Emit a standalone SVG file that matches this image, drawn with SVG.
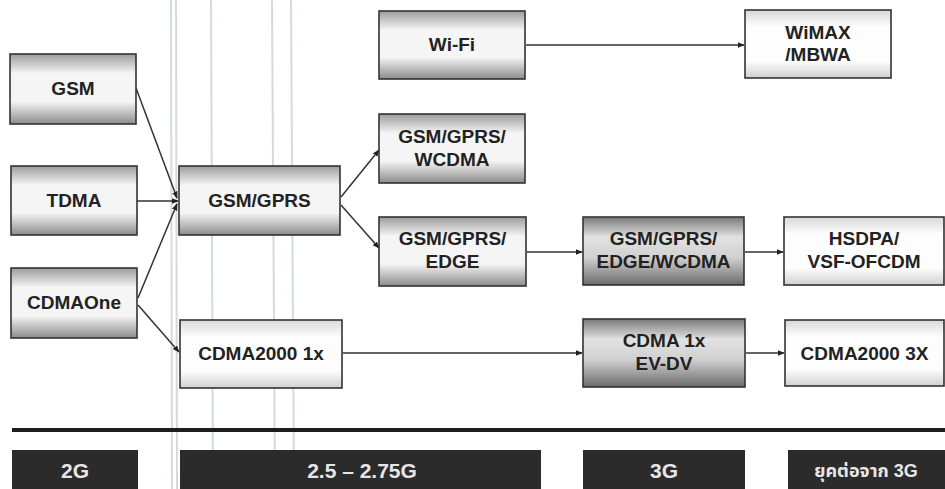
<svg xmlns="http://www.w3.org/2000/svg" width="945" height="489" viewBox="0 0 945 489">
<style>
.box{stroke:#333;stroke-width:1.6}
.mid{fill:url(#gMid)}
.lt{fill:url(#gLight)}
.dk{fill:url(#gDark)}
.t{font-family:"Liberation Sans",Arial,sans-serif;font-weight:bold;font-size:19px;fill:#222;text-anchor:middle}
.bar{fill:#2b2b2b}
.bt{font-family:"Liberation Sans","Noto Sans Thai","DejaVu Sans",sans-serif;font-weight:bold;font-size:21px;fill:#e6e6e6;text-anchor:middle}
.c{fill:none;stroke:#333;stroke-width:1.5}
.scan{stroke:#c4c9d6;stroke-width:2;opacity:0.7}
</style>
<defs>
<linearGradient id="gMid" x1="0" y1="0" x2="0" y2="1">
<stop offset="0" stop-color="#9c9c9c"/><stop offset="0.28" stop-color="#f5f5f5"/><stop offset="0.68" stop-color="#f5f5f5"/><stop offset="1" stop-color="#8c8c8c"/>
</linearGradient>
<linearGradient id="gLight" x1="0" y1="0" x2="0" y2="1">
<stop offset="0" stop-color="#d8d8d8"/><stop offset="0.25" stop-color="#fdfdfd"/><stop offset="0.75" stop-color="#fdfdfd"/><stop offset="1" stop-color="#d0d0d0"/>
</linearGradient>
<linearGradient id="gDark" x1="0" y1="0" x2="0" y2="1">
<stop offset="0" stop-color="#7a7a7a"/><stop offset="0.3" stop-color="#e2e2e2"/><stop offset="0.6" stop-color="#d0d0d0"/><stop offset="1" stop-color="#6a6a6a"/>
</linearGradient>
<marker id="ah" viewBox="0 0 10 10" refX="9" refY="5" markerWidth="7" markerHeight="7" orient="auto" markerUnits="userSpaceOnUse">
<path d="M0,1 L10,5 L0,9 z" fill="#222"/>
</marker>
</defs>
<rect width="945" height="489" fill="#ffffff"/>
<g id="scanlines">
<line class="scan" x1="171" y1="0" x2="172" y2="489"/>
<line class="scan" x1="176" y1="0" x2="177" y2="489"/>
<line class="scan" x1="211" y1="0" x2="213" y2="489"/>
<line class="scan" x1="272" y1="0" x2="275" y2="489"/>
<line class="scan" x1="291" y1="0" x2="294" y2="489"/>
</g>
<g id="connectors">
<line class="c" x1="136" y1="88" x2="177" y2="198" marker-end="url(#ah)"/>
<line class="c" x1="137" y1="201" x2="178" y2="201" marker-end="url(#ah)"/>
<line class="c" x1="138" y1="298" x2="177" y2="204" marker-end="url(#ah)"/>
<line class="c" x1="138" y1="305" x2="179" y2="352" marker-end="url(#ah)"/>
<line class="c" x1="341" y1="197" x2="379" y2="150" marker-end="url(#ah)"/>
<line class="c" x1="341" y1="205" x2="379" y2="248" marker-end="url(#ah)"/>
<line class="c" x1="526" y1="45" x2="744" y2="45" marker-end="url(#ah)"/>
<line class="c" x1="527" y1="252" x2="582" y2="252" marker-end="url(#ah)"/>
<line class="c" x1="745" y1="252" x2="783" y2="252" marker-end="url(#ah)"/>
<line class="c" x1="343" y1="353" x2="582" y2="353" marker-end="url(#ah)"/>
<line class="c" x1="746" y1="353" x2="784" y2="353" marker-end="url(#ah)"/>
</g>
<g id="n-gsm"><rect class="box mid" x="10" y="54" width="126" height="70"/><text class="t" x="73" y="95">GSM</text></g>
<g id="n-tdma"><rect class="box mid" x="11" y="166" width="126" height="69"/><text class="t" x="74" y="207">TDMA</text></g>
<g id="n-cdmaone"><rect class="box mid" x="11" y="268" width="126" height="70"/><text class="t" x="74" y="309">CDMAOne</text></g>
<g id="n-gsmgprs"><rect class="box mid" x="179" y="166" width="161" height="69"/><text class="t" x="259.5" y="207">GSM/GPRS</text></g>
<g id="n-cdma2000-1x"><rect class="box lt" x="180" y="320" width="162" height="68"/><text class="t" x="261" y="360">CDMA2000 1x</text></g>
<g id="n-wifi"><rect class="box mid" x="379" y="11" width="146" height="68"/><text class="t" x="452" y="51">Wi-Fi</text></g>
<g id="n-wimax"><rect class="box lt" x="745" y="10" width="146" height="68"/><text class="t" x="818" y="39">WiMAX</text><text class="t" x="818" y="61">/MBWA</text></g>
<g id="n-wcdma"><rect class="box mid" x="379" y="114" width="146" height="69"/><text class="t" x="452" y="143">GSM/GPRS/</text><text class="t" x="452" y="166">WCDMA</text></g>
<g id="n-edge"><rect class="box mid" x="379" y="217" width="147" height="69"/><text class="t" x="452.5" y="245">GSM/GPRS/</text><text class="t" x="452.5" y="268">EDGE</text></g>
<g id="n-edge-wcdma"><rect class="box dk" x="583" y="217" width="161" height="68"/><text class="t" x="663.5" y="245">GSM/GPRS/</text><text class="t" x="663.5" y="268">EDGE/WCDMA</text></g>
<g id="n-hsdpa"><rect class="box lt" x="784" y="217" width="160" height="68"/><text class="t" x="864" y="245">HSDPA/</text><text class="t" x="864" y="268">VSF-OFCDM</text></g>
<g id="n-evdv"><rect class="box dk" x="583" y="319" width="162" height="68"/><text class="t" x="664" y="347">CDMA 1x</text><text class="t" x="664" y="370">EV-DV</text></g>
<g id="n-cdma2000-3x"><rect class="box lt" x="785" y="320" width="159" height="66"/><text class="t" x="864.5" y="360">CDMA2000 3X</text></g>
<g id="timeline">
<rect x="12" y="428" width="933" height="4" fill="#1e1e1e"/>
<rect class="bar" x="12" y="450" width="126" height="39"/>
<text class="bt" x="75" y="478">2G</text>
<rect class="bar" x="180" y="450" width="361" height="39"/>
<text class="bt" x="362" y="478">2.5 – 2.75G</text>
<rect class="bar" x="583" y="450" width="162" height="39"/>
<text class="bt" x="664" y="478">3G</text>
<rect class="bar" x="788" y="450" width="157" height="39"/>
<text class="bt" x="866" y="477" style="font-size:18px">ยุคต่อจาก 3G</text>
</g>
</svg>
